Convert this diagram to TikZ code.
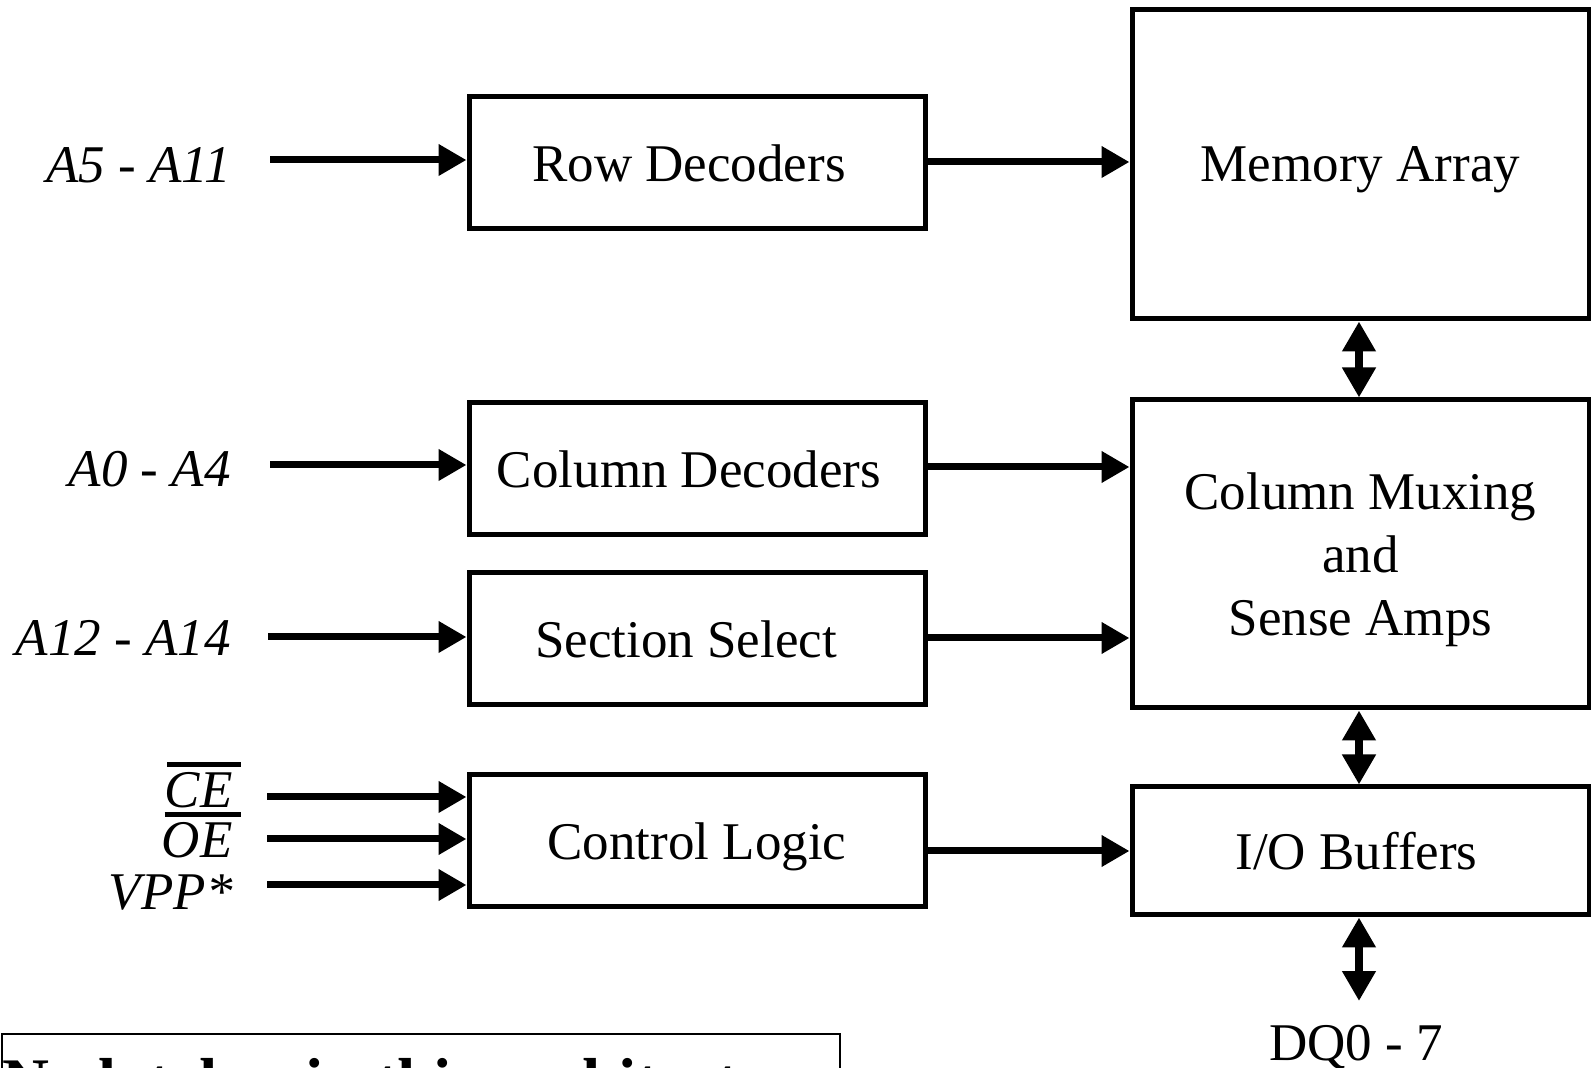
\documentclass[tikz,border=0pt]{standalone}
\usepackage{fontspec}
\setmainfont{Liberation Serif}
\usetikzlibrary{arrows.meta}
\begin{document}
\begin{tikzpicture}[x=0.5pt,y=-0.5pt,
  blk/.style={draw, line width=2.5pt, inner sep=0pt, align=center, text depth=0pt,
    font=\fontsize{26.5}{31.5}\selectfont},
  sblk/.style={blk, minimum width=228pt, minimum height=66pt},
  rblk/.style={blk, minimum width=228.5pt},
  lbl/.style={inner sep=0pt, font=\fontsize{26.5}{31.5}\selectfont\itshape, anchor=base east},
  arr/.style={line width=3.5pt, -{Triangle[length=14pt,width=15pt]}},
  darr/.style={line width=4pt, {Triangle[length=15pt,width=16pt]}-{Triangle[length=15pt,width=16pt]}},
  ovl/.style={line width=2.5pt}
]
\useasboundingbox (0,0) rectangle (1591,1068);
\clip (0,0) rectangle (1591,1068);

% boxes
\node[sblk] (row) at (697,163) {Row Decoders\hspace*{8pt}};
\node[sblk] (col) at (697,469) {Column Decoders\hspace*{8pt}};
\node[sblk] (sec) at (697,639) {Section Select\hspace*{11pt}};
\node[sblk] (ctl) at (697,841) {Control Logic};
\node[rblk, minimum height=154.5pt] (mem) at (1360.5,164.5) {Memory Array};
\node[rblk, minimum height=154pt] (mux) at (1360.5,554) {Column Muxing\\and\\Sense Amps};
\node[rblk, minimum height=64pt] (io) at (1360.5,851) {I/O Buffers\hspace*{4pt}};

% input labels
\node[lbl] (la5) at (231,183) {A5 - A11};
\node[lbl] (la0) at (231,487) {A0 - A4};
\node[lbl] (la12) at (231,656) {A12 - A14};
\node[lbl] (lce) at (233,808) {CE};
\node[lbl] (loe) at (233,858) {OE};
\node[lbl] (lvpp) at (233,910) {VPP*};
\draw[ovl] ([shift={(3,-8)}]lce.north west) -- ([shift={(8,-8)}]lce.north east);
\draw[ovl] ([shift={(3,-8)}]loe.north west) -- ([shift={(8,-8)}]loe.north east);

% arrow start points
\coordinate (s5) at (270,160);
\coordinate (s0) at (270,465);
\coordinate (s12) at (268,637);
\coordinate (sce) at (267,797);
\coordinate (soe) at (267,839);
\coordinate (svpp) at (267,885);

\draw[arr] (s5) -- (s5 -| row.west);
\draw[arr] (s0) -- (s0 -| col.west);
\draw[arr] (s12) -- (s12 -| sec.west);
\draw[arr] (sce) -- (sce -| ctl.west);
\draw[arr] (soe) -- (soe -| ctl.west);
\draw[arr] (svpp) -- (svpp -| ctl.west);

\draw[arr] (row.east |- 0,162) -- (mem.west |- 0,162);
\draw[arr] (col.east |- 0,467) -- (mux.west |- 0,467);
\draw[arr] (sec.east |- 0,638) -- (mux.west |- 0,638);
\draw[arr] (ctl.east |- 0,851) -- (io.west |- 0,851);

% vertical bidirectional
\coordinate (vx) at (1359,0);
\draw[darr] (mem.south -| vx) -- (mux.north -| vx);
\draw[darr] (mux.south -| vx) -- (io.north -| vx);
\coordinate (dq) at (1359,1001);
\draw[darr] (io.south -| vx) -- (dq);
\node[inner sep=0pt, anchor=base, font=\fontsize{26.5}{31.5}\selectfont] (ldq) at (1356,1060) {DQ0 - 7};

% note box (cut off at bottom)
\node[draw, line width=1pt, anchor=north west, inner sep=0pt, minimum width=419pt, minimum height=80pt] (note) at (1,1033) {};
\node[inner sep=0pt, anchor=base west, font=\fontsize{32.5}{38}\selectfont\bfseries] (notetxt) at (2,1103) {No latches in this architecture};
\end{tikzpicture}
\end{document}
